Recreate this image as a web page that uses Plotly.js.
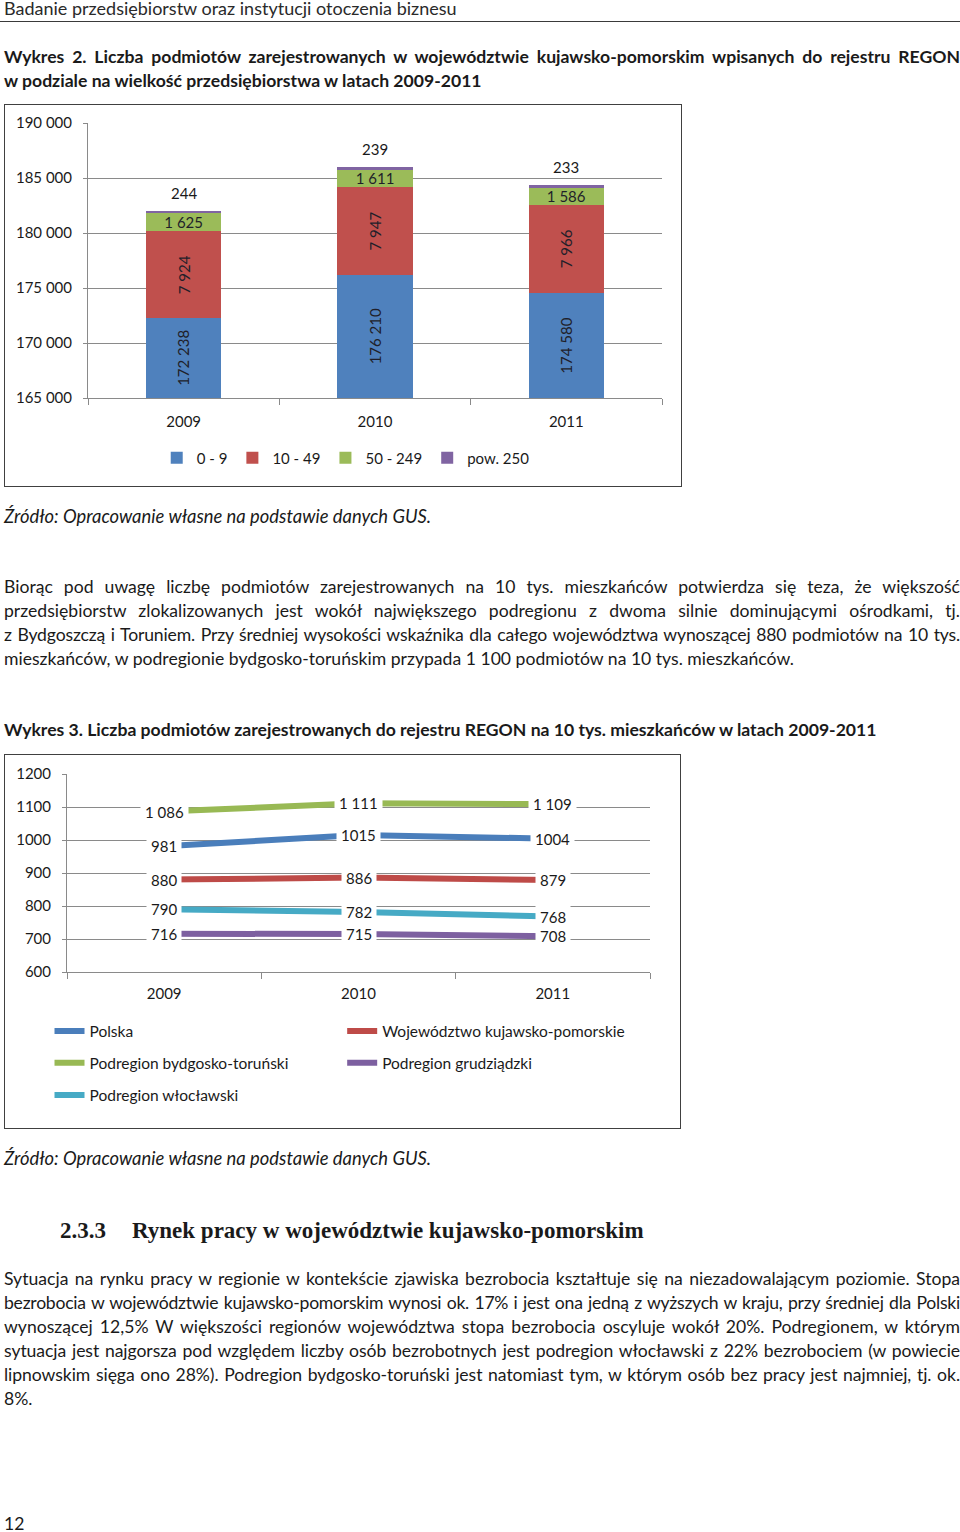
<!DOCTYPE html>
<html><head><meta charset="utf-8">
<script src="https://cdn.plot.ly/plotly-3.0.1.min.js"></script>
<style>
html,body{margin:0;padding:0;background:#fff;}
body{width:960px;height:1532px;position:relative;overflow:hidden;font-family:Lato,"Open Sans",sans-serif;color:#1a1a1a;font-size:17.6px;}
.line{position:absolute;left:4px;width:956px;line-height:24px;height:24px;}
.j{text-align:justify;text-align-last:justify;}
.b{font-weight:bold;}
.i{font-style:italic;font-size:18.4px;}
.chartbox{position:absolute;border:1px solid #404040;box-sizing:border-box;background:#fff;}
.chartbox > div{position:absolute;left:0;top:0;}
#hdrline{position:absolute;left:0;top:21px;width:960px;height:0;border-top:1.5px solid #3a3a3a;}
.h233{position:absolute;top:1218px;font-family:"Liberation Serif",serif;font-weight:bold;font-size:23px;line-height:26px;color:#1a1a1a;white-space:nowrap;}
</style></head>
<body>
<div class="line" style="top:-4px;color:#2a2a2a;font-size:18px;">Badanie przedsiębiorstw oraz instytucji otoczenia biznesu</div>
<div id="hdrline"></div>

<div class="line j b" style="top:45px;">Wykres 2. Liczba podmiotów zarejestrowanych w województwie kujawsko-pomorskim wpisanych do rejestru REGON</div>
<div class="line b" style="top:69px;">w podziale na wielkość przedsiębiorstwa w latach 2009-2011</div>

<div class="chartbox" style="left:4px;top:104px;width:678px;height:383px;"><div id="chart1"></div></div>

<div class="line i" style="top:504px;">Źródło: Opracowanie własne na podstawie danych GUS.</div>

<div class="line j" style="top:575px;">Biorąc pod uwagę liczbę podmiotów zarejestrowanych na 10 tys. mieszkańców potwierdza się teza, że większość</div>
<div class="line j" style="top:599px;">przedsiębiorstw zlokalizowanych jest wokół największego podregionu z dwoma silnie dominującymi ośrodkami, tj.</div>
<div class="line j" style="top:623px;">z Bydgoszczą i Toruniem. Przy średniej wysokości wskaźnika dla całego województwa wynoszącej 880 podmiotów na 10 tys.</div>
<div class="line" style="top:647px;">mieszkańców, w podregionie bydgosko-toruńskim przypada 1 100 podmiotów na 10 tys. mieszkańców.</div>

<div class="line b" style="top:718px;">Wykres 3. Liczba podmiotów zarejestrowanych do rejestru REGON na 10 tys. mieszkańców w latach 2009-2011</div>

<div class="chartbox" style="left:4px;top:754px;width:677px;height:375px;"><div id="chart2"></div></div>

<div class="line i" style="top:1146px;">Źródło: Opracowanie własne na podstawie danych GUS.</div>

<div class="h233" style="left:60px;">2.3.3</div>
<div class="h233" style="left:132px;">Rynek pracy w województwie kujawsko-pomorskim</div>

<div class="line j" style="top:1267px;">Sytuacja na rynku pracy w regionie w kontekście zjawiska bezrobocia kształtuje się na niezadowalającym poziomie. Stopa</div>
<div class="line j" style="top:1291px;">bezrobocia w województwie kujawsko-pomorskim wynosi ok. 17% i jest ona jedną z wyższych w kraju, przy średniej dla Polski</div>
<div class="line j" style="top:1315px;">wynoszącej 12,5% W większości regionów województwa stopa bezrobocia oscyluje wokół 20%. Podregionem, w którym</div>
<div class="line j" style="top:1339px;">sytuacja jest najgorsza pod względem liczby osób bezrobotnych jest podregion włocławski z 22% bezrobociem (w powiecie</div>
<div class="line j" style="top:1363px;">lipnowskim sięga ono 28%). Podregion bydgosko-toruński jest natomiast tym, w którym osób bez pracy jest najmniej, tj. ok.</div>
<div class="line" style="top:1387px;">8%.</div>

<div class="line" style="top:1512px;">12</div>

<script>
// ---------- Wykres 2 data ----------
const years1 = ['2009', '2010', '2011'];
const micro = [172238, 176210, 174580];   // 0 - 9
const small = [7924, 7947, 7966];         // 10 - 49
const medium = [1625, 1611, 1586];        // 50 - 249
const large = [244, 239, 233];            // pow. 250
const sizeNames = ['0 - 9', '10 - 49', '50 - 249', 'pow. 250'];
const sizeColors = ['#4F81BD', '#C0504D', '#9BBB59', '#8064A2'];
const yRange1 = [165000, 190000];

// ---------- Wykres 3 data ----------
const years2 = ['2009', '2010', '2011'];
const polska = [981, 1015, 1004];
const wojewodztwo = [880, 886, 879];
const bydgoskoTorunski = [1086, 1111, 1109];
const grudziadzki = [716, 715, 708];
const wloclawski = [790, 782, 768];
const seriesNames = ['Polska', 'Województwo kujawsko-pomorskie', 'Podregion bydgosko-toruński', 'Podregion grudziądzki', 'Podregion włocławski'];
const seriesColors = ['#4A7EBB', '#BE4B48', '#98B954', '#7D60A0', '#46AAC5'];
const seriesSpaceSep = [false, true, true, true, true];

function fmt(n, sep) {
  return sep ? String(n).replace(/\B(?=(\d{3})+(?!\d))/g, ' ') : String(n);
}

const txtColor = '#1a1a1a';
const gridColor = '#8a8a8a';
const FONT = 'Lato, "Open Sans", sans-serif';

// ---------- Chart 1 ----------
const barSeries = [micro, small, medium, large];
const traces1 = barSeries.map((vals, i) => ({
  type: 'bar', x: years1, y: vals, name: sizeNames[i],
  marker: {color: sizeColors[i], line: {width: 0}},
  texttemplate: (i === 1 || i === 2) ? '%{y:,d}' : '',
  textposition: (i === 1 || i === 2) ? 'inside' : 'none',
  insidetextanchor: 'middle',
  textangle: i < 2 ? -90 : 0,
  textfont: {family: FONT, size: 15, color: '#1f1f2a'},
  constraintext: 'none',
  hoverinfo: 'skip'
}));
const totals = years1.map((_, i) => micro[i] + small[i] + medium[i] + large[i]);
// on a category axis annotations take the category index
const ann1 = years1.map((y, i) => ({
  x: i, y: totals[i], xref: 'x', yref: 'y', text: fmt(large[i], true),
  showarrow: false, yanchor: 'bottom', yshift: 7,
  font: {family: FONT, size: 15, color: txtColor}
}));
// labels of the bottom segment, centred on its visible part
years1.forEach((y, i) => {
  ann1.push({x: i, y: (yRange1[0] + micro[i]) / 2, xref: 'x', yref: 'y', text: fmt(micro[i], true),
    showarrow: false, textangle: -90, xanchor: 'center', yanchor: 'middle',
    font: {family: FONT, size: 15, color: '#1f1f2a'}});
});

const layout1 = {
  width: 676, height: 381,
  margin: {l: 83, r: 19, t: 18, b: 88, pad: 0},
  barmode: 'stack', bargap: 0.607,
  separators: ', ',
  font: {family: FONT, size: 15, color: txtColor},
  paper_bgcolor: 'rgba(0,0,0,0)', plot_bgcolor: 'rgba(0,0,0,0)',
  xaxis: {type: 'category', range: [-0.5, 2.5], showline: true, linecolor: gridColor, linewidth: 1,
          ticks: 'outside', tickson: 'boundaries', ticklen: 6, tickcolor: gridColor,
          showgrid: false, ticklabelstandoff: 10, fixedrange: true},
  yaxis: {range: yRange1, dtick: 5000, tickformat: ',d', showline: true,
          linecolor: gridColor, linewidth: 1, ticks: 'outside', ticklen: 4, tickcolor: gridColor,
          gridcolor: gridColor, gridwidth: 1, zeroline: false, ticklabelstandoff: 8, fixedrange: true},
  showlegend: true,
  legend: {orientation: 'h', traceorder: 'normal', x: 0.449, xanchor: 'center', y: -0.218, yanchor: 'middle',
           font: {family: FONT, size: 15, color: txtColor}, itemwidth: 30, bgcolor: 'rgba(0,0,0,0)'},
  annotations: ann1
};
Plotly.newPlot('chart1', traces1, layout1, {displayModeBar: false, staticPlot: true});

// ---------- Chart 2 ----------
const lineSeries = [polska, wojewodztwo, bydgoskoTorunski, grudziadzki, wloclawski];
const legendIds = ['legend', 'legend2', 'legend3', 'legend4', 'legend5'];
const traces2 = lineSeries.map((vals, j) => ({
  type: 'scatter', mode: 'lines', x: years2, y: vals, name: seriesNames[j],
  line: {color: seriesColors[j], width: 6},
  legend: legendIds[j], hoverinfo: 'skip'
}));
const ann2 = [];
lineSeries.forEach((vals, j) => {
  vals.forEach((v, i) => {
    ann2.push({x: i, y: v, xref: 'x', yref: 'y', text: fmt(v, seriesSpaceSep[j]),
      showarrow: false, bgcolor: '#ffffff', borderpad: 4, xanchor: 'center', yanchor: 'middle',
      font: {family: FONT, size: 15, color: txtColor}});
  });
});
const legX = [-0.03, 0.472, -0.03, 0.472, -0.03];
const legY = [-0.30, -0.30, -0.461, -0.461, -0.623];
const layout2 = {
  width: 675, height: 373,
  margin: {l: 62, r: 30, t: 19, b: 156, pad: 0},
  font: {family: FONT, size: 15, color: txtColor},
  paper_bgcolor: 'rgba(0,0,0,0)', plot_bgcolor: 'rgba(0,0,0,0)',
  xaxis: {type: 'category', range: [-0.5, 2.5], showline: true, linecolor: gridColor, linewidth: 1,
          ticks: 'outside', tickson: 'boundaries', ticklen: 6, tickcolor: gridColor,
          showgrid: false, ticklabelstandoff: 8, fixedrange: true},
  yaxis: {range: [600, 1200], dtick: 100, showline: true, linecolor: gridColor, linewidth: 1,
          ticks: 'outside', ticklen: 4, tickcolor: gridColor, gridcolor: gridColor, gridwidth: 1,
          zeroline: false, ticklabelstandoff: 8, fixedrange: true},
  showlegend: true,
  annotations: ann2
};
legendIds.forEach((id, j) => {
  layout2[id] = {x: legX[j], xanchor: 'left', y: legY[j], yanchor: 'middle',
    font: {family: FONT, size: 15.5, color: txtColor}, bgcolor: 'rgba(0,0,0,0)', itemwidth: 30};
});
Plotly.newPlot('chart2', traces2, layout2, {displayModeBar: false, staticPlot: true});

// ---------- keep justified lines on one line ----------
function fitLines() {
  document.querySelectorAll('.line.j').forEach(el => {
    el.style.letterSpacing = '';
    const s = document.createElement('span');
    s.textContent = el.textContent;
    const cs = getComputedStyle(el);
    s.style.cssText = 'position:absolute;visibility:hidden;white-space:nowrap;left:0;top:0;';
    s.style.fontFamily = cs.fontFamily; s.style.fontSize = cs.fontSize; s.style.fontWeight = cs.fontWeight;
    document.body.appendChild(s);
    const w = s.getBoundingClientRect().width;
    s.remove();
    const maxW = 935;
    if (w > maxW) el.style.letterSpacing = (-(w - maxW) / el.textContent.length).toFixed(3) + 'px';
  });
}
fitLines();
if (document.fonts && document.fonts.ready) document.fonts.ready.then(fitLines);
</script>
</body></html>
